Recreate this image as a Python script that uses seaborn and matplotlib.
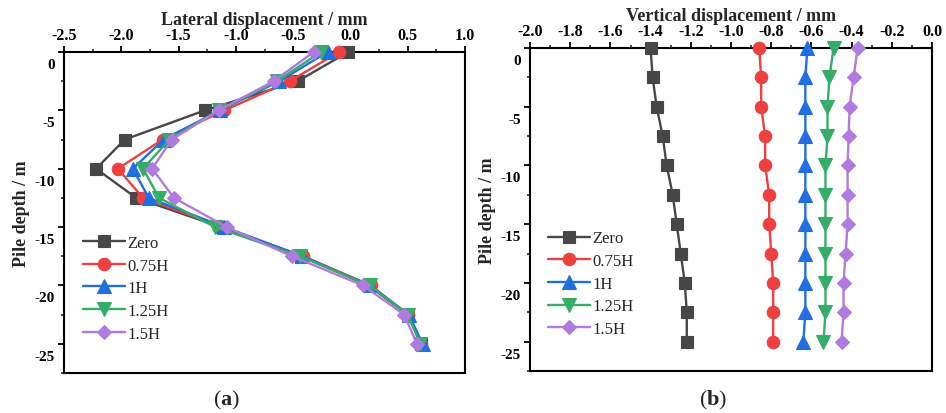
import numpy as np
import pandas as pd
import matplotlib
matplotlib.use("Agg")
import matplotlib.pyplot as plt
from matplotlib.transforms import ScaledTranslation
from matplotlib.ticker import MultipleLocator
import seaborn as sns

# ---------------- data ----------------
depth = [0, -2.5, -5, -7.5, -10, -12.5, -15, -17.5, -20, -22.5, -25]
series_names = ["Zero", "0.75H", "1H", "1.25H", "1.5H"]

lat_zero = [-0.02, -0.46, -1.27, -1.97, -2.22, -1.87, -1.13, -0.43, 0.16, 0.50, 0.62]
lat_075 = [-0.10, -0.53, -1.10, -1.64, -2.03, -1.81, -1.12, -0.41, 0.18, 0.50, 0.62]
lat_1 = [-0.20, -0.62, -1.14, -1.63, -1.90, -1.76, -1.10, -0.42, 0.17, 0.51, 0.63]
lat_125 = [-0.26, -0.64, -1.15, -1.58, -1.81, -1.67, -1.18, -0.44, 0.17, 0.50, 0.61]
lat_15 = [-0.32, -0.67, -1.15, -1.56, -1.73, -1.54, -1.08, -0.51, 0.11, 0.47, 0.58]

ver_zero = [-1.40, -1.39, -1.37, -1.34, -1.32, -1.29, -1.27, -1.25, -1.23, -1.22, -1.22]
ver_075 = [-0.86, -0.85, -0.85, -0.83, -0.83, -0.81, -0.81, -0.80, -0.79, -0.79, -0.79]
ver_1 = [-0.62, -0.63, -0.63, -0.63, -0.63, -0.63, -0.63, -0.63, -0.63, -0.63, -0.64]
ver_125 = [-0.49, -0.51, -0.52, -0.52, -0.53, -0.53, -0.53, -0.53, -0.53, -0.53, -0.54]
ver_15 = [-0.37, -0.39, -0.41, -0.415, -0.42, -0.42, -0.42, -0.43, -0.44, -0.44, -0.45]

lat_xticks = [-2.5, -2.0, -1.5, -1.0, -0.5, 0.0, 0.5, 1.0]
ver_xticks = [-2.0, -1.8, -1.6, -1.4, -1.2, -1.0, -0.8, -0.6, -0.4, -0.2, 0.0]
yticks = [0, -5, -10, -15, -20, -25]

lateral = [lat_zero, lat_075, lat_1, lat_125, lat_15]
vertical = [ver_zero, ver_075, ver_1, ver_125, ver_15]

# ---------------- style ----------------
colors = ["#474747", "#ef3f3f", "#1f6fe0", "#35ad69", "#b07ade"]
markers = ["s", "o", "^", "v", "D"]
msizes = [8, 9, 9.5, 9.5, 7]

sns.set_theme(style="ticks")
plt.rcParams["font.family"] = ["Liberation Serif", "DejaVu Serif"]
plt.rcParams["axes.unicode_minus"] = False
plt.rcParams["mathtext.fontset"] = "custom"
plt.rcParams["mathtext.rm"] = "Liberation Serif"
plt.rcParams["mathtext.bf"] = "Liberation Serif:bold"

fig = plt.figure(figsize=(9.46, 4.14), dpi=100)
W, H = 946, 414


def px_axes(l, t, r, b):
    return fig.add_axes([l / W, 1 - b / H, (r - l) / W, (b - t) / H])


ax_a = px_axes(64, 53, 465, 374)
ax_b = px_axes(530, 49, 932, 372)


def draw(ax, data, xlim, xticks, xminor, xlabel, leg_anchor):
    for name, vals, c, m, ms in zip(series_names, data, colors, markers, msizes):
        df = pd.DataFrame({"x": vals, "depth": depth})
        sns.lineplot(data=df, x="x", y="depth", orient="y", ax=ax, color=c,
                     marker=m, markersize=ms, markeredgecolor=c,
                     markeredgewidth=0.8, linewidth=1.7, label=name,
                     clip_on=False, zorder=3)
    ax.set_xlim(*xlim)
    ax.set_ylim(-27.5, 0)
    ax.xaxis.set_label_position("top")
    ax.xaxis.tick_top()
    ax.set_xticks(xticks)
    ax.set_xticklabels([f"{v:.1f}" for v in xticks])
    ax.xaxis.set_minor_locator(MultipleLocator(xminor))
    ax.set_yticks(yticks)
    ax.set_yticklabels([str(v) for v in yticks])
    ax.yaxis.set_minor_locator(MultipleLocator(2.5))
    ax.tick_params(axis="both", which="major", direction="out", length=4,
                   width=1.3, pad=2.5, colors="black")
    ax.tick_params(axis="x", which="major", labelsize=11.5)
    ax.tick_params(axis="y", which="major", labelsize=11)
    ax.tick_params(axis="both", which="minor", direction="out", length=2.2,
                   width=1.2)
    ax.tick_params(axis="x", which="both", top=True, bottom=False)
    ax.tick_params(axis="y", which="both", left=True, right=False)
    for lab in ax.get_xticklabels() + ax.get_yticklabels():
        lab.set_fontweight("bold")
    off = ScaledTranslation(0, -0.11, fig.dpi_scale_trans)
    for t in ax.yaxis.get_major_ticks():
        t.label1.set_transform(t.label1.get_transform() + off)
    for s in ax.spines.values():
        s.set_visible(True)
        s.set_linewidth(1.5)
        s.set_color("black")
    ax.set_xlabel(xlabel, fontsize=13, fontweight="bold", labelpad=2)
    ax.set_ylabel("Pile depth / m", fontsize=13, fontweight="bold", labelpad=3)
    ax.legend(loc="upper left", bbox_to_anchor=leg_anchor, frameon=False,
              fontsize=12, handlelength=2.5, handletextpad=0.15,
              labelspacing=0.4, borderpad=0, borderaxespad=0)


draw(ax_a, lateral, (-2.5, 1.0), lat_xticks, 0.25, "Lateral displacement / mm",
     (0.047, 0.43))
draw(ax_b, vertical, (-2.0, 0.0), ver_xticks, 0.1, "Vertical displacement / mm",
     (0.045, 0.435))

fig.text(227 / W, 1 - 400 / H, r"($\mathbf{a}$)", fontsize=16,
         ha="center", va="center")
fig.text(713 / W, 1 - 400 / H, r"($\mathbf{b}$)", fontsize=16,
         ha="center", va="center")

fig.savefig("out.png", dpi=100)
